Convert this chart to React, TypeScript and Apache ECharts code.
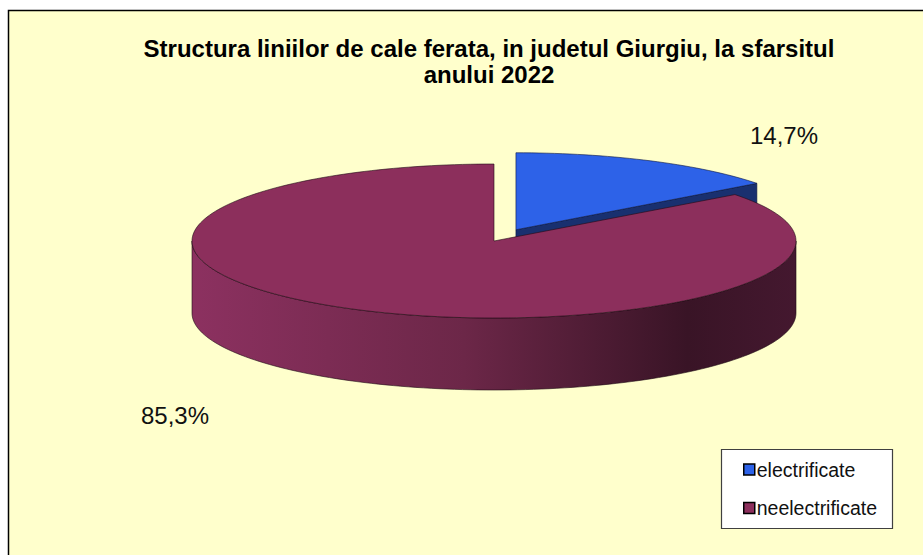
import React, { useEffect, useRef } from "react";
import * as echarts from "echarts";

const categories = ["electrificate", "neelectrificate"];
const values = [14.7, 85.3];
const titleLines = [
  "Structura liniilor de cale ferata, in judetul Giurgiu, la sfarsitul",
  "anului 2022",
];

const FONT = '"Liberation Sans", Arial, sans-serif';

export default function App() {
  const ref = useRef<HTMLDivElement>(null);

  useEffect(() => {
    if (!ref.current) return;
    const chart = echarts.init(ref.current, undefined, { renderer: "svg" });

    // layout (not data)
    const CX = 494;
    const CY = 241;
    const RX = 302;
    const RY = 77;
    const DEPTH = 72;
    const explode = [0.163, 0];
    const labelOffsets = [
      [290, -106],
      [-319, 174],
    ];
    const topColors = ["#2D62E8", "#8C2F5C"];
    const sideColors = [
      [
        { offset: 0, color: "#24449A" },
        { offset: 1, color: "#122358" },
      ],
      [
        { offset: 0, color: "#8C3160" },
        { offset: 0.45, color: "#6C2748" },
        { offset: 0.82, color: "#391426" },
        { offset: 1, color: "#44182F" },
      ],
    ];
    const radialColors = ["#19306F", "#4A1A33"];
    const strokeColors = ["#0B1640", "#1E0A14"];

    const total = values.reduce((a, b) => a + b, 0);
    const TWO_PI = Math.PI * 2;

    const makeRenderItem = (i: number) => (params: any, api: any) => {
      const v = api.value(0);
      const before = values.slice(0, i).reduce((a, b) => a + b, 0);
      const a0 = (before / total) * TWO_PI;
      const a1 = a0 + (v / total) * TWO_PI;
      const mid = (a0 + a1) / 2;
      const ox = explode[i] * RX * Math.sin(mid);
      const oy = -explode[i] * RY * Math.cos(mid);
      const cx = CX + ox;
      const cy = CY + oy;
      const pt = (a: number, dz = 0) => [cx + RX * Math.sin(a), cy - RY * Math.cos(a) + dz];
      const arc = (from: number, to: number, dz = 0) => {
        const n = Math.max(2, Math.ceil((Math.abs(to - from) / TWO_PI) * 240));
        const pts: number[][] = [];
        for (let k = 0; k <= n; k++) pts.push(pt(from + ((to - from) * k) / n, dz));
        return pts;
      };
      const children: any[] = [];
      const stroke = strokeColors[i];

      // radial faces
      const faces = [
        { a: a0, normal: a0 - Math.PI / 2 },
        { a: a1, normal: a1 + Math.PI / 2 },
      ];
      faces.forEach((f) => {
        if (Math.cos(f.normal) < -1e-6) {
          const e = pt(f.a);
          children.push({
            type: "polygon",
            shape: { points: [[cx, cy], e, [e[0], e[1] + DEPTH], [cx, cy + DEPTH]] },
            style: { fill: radialColors[i], stroke, lineWidth: 0.6 },
          });
        }
      });

      // outer side (front half only)
      const lo = Math.max(a0, Math.PI / 2);
      const hi = Math.min(a1, (3 * Math.PI) / 2);
      if (hi > lo) {
        const top = arc(lo, hi);
        const bottom = arc(hi, lo, DEPTH);
        children.push({
          type: "polygon",
          shape: { points: top.concat(bottom) },
          style: {
            fill: new echarts.graphic.LinearGradient(CX - RX, 0, CX + RX, 0, sideColors[i], true),
            stroke,
            lineWidth: 0.6,
          },
        });
      }

      // top face
      children.push({
        type: "polygon",
        shape: { points: [[cx, cy]].concat(arc(a0, a1)) },
        style: { fill: topColors[i], stroke, lineWidth: 0.6 },
      });

      // label
      const txt = v.toFixed(1).replace(".", ",") + "%";
      children.push({
        type: "text",
        x: CX + labelOffsets[i][0],
        y: CY + labelOffsets[i][1],
        style: {
          text: txt,
          fontSize: 24,
          fontFamily: FONT,
          fill: "#111",
          align: "center",
          verticalAlign: "middle",
        },
      });

      return { type: "group", children };
    };

    chart.setOption({
      animation: false,
      title: {
        text: titleLines.join("\n"),
        left: 484,
        top: 30,
        textAlign: "center",
        textStyle: {
          fontSize: 24,
          fontWeight: "bold",
          fontFamily: FONT,
          color: "#000",
          lineHeight: 26,
        },
      },
      graphic: [
        {
          type: "rect",
          z: 0,
          shape: { x: 8.5, y: 10.5, width: 1000, height: 1000 },
          style: { fill: "#FFFFCC", stroke: "#000", lineWidth: 1.5 },
          silent: true,
        },
        {
          type: "rect",
          z: 1,
          shape: { x: 721.5, y: 449.5, width: 171, height: 79 },
          style: { fill: "#FFFFFF", stroke: "#404040", lineWidth: 1.2 },
          silent: true,
        },
      ],
      legend: {
        orient: "vertical",
        left: 743,
        top: 459.5,
        padding: 0,
        itemWidth: 11,
        itemHeight: 11,
        itemGap: 18.5,
        icon: "rect",
        selectedMode: false,
        data: categories,
        itemStyle: { borderColor: "#000", borderWidth: 1.5 },
        textStyle: {
          fontSize: 19.5,
          fontFamily: FONT,
          color: "#111",
          lineHeight: 20,
          padding: [0, 0, 0, -3],
        },
      },
      series: categories.map((name, i) => ({
        type: "custom",
        name,
        coordinateSystem: "none",
        itemStyle: { color: topColors[i] },
        data: [values[i]],
        renderItem: makeRenderItem(i),
      })),
    });

    return () => chart.dispose();
  }, []);

  return (
    <div
      ref={ref}
      style={{ position: "absolute", left: 0, top: 0, width: 923, height: 555, background: "#fff" }}
    />
  );
}
